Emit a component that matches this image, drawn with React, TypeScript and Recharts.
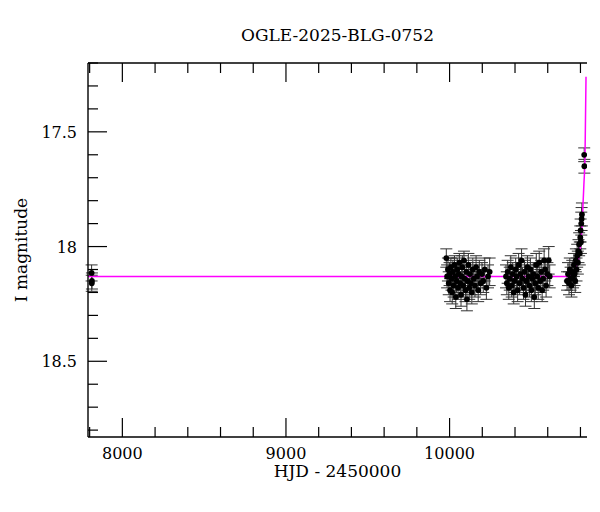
import React from "react";
import { ComposedChart, Scatter, Line, XAxis, YAxis, ErrorBar, Label } from "recharts";

// season data: [HJD-2450000, I mag, error]
const season0: number[][] = [
  [7812, 18.115, 0.035],
  [7814, 18.15, 0.035],
  [7813, 18.16, 0.035],
];
const season1: number[][] = [
  [9980, 18.05, 0.04], [9985, 18.13, 0.05], [9990, 18.1, 0.05], [9995, 18.16, 0.05],
  [10000, 18.12, 0.05], [10003, 18.19, 0.05], [10008, 18.09, 0.04], [10012, 18.14, 0.05],
  [10016, 18.2, 0.05], [10020, 18.11, 0.05], [10025, 18.17, 0.05], [10030, 18.08, 0.04],
  [10034, 18.13, 0.05], [10038, 18.22, 0.05], [10043, 18.15, 0.05], [10047, 18.1, 0.05],
  [10052, 18.18, 0.05], [10056, 18.12, 0.05], [10060, 18.07, 0.04], [10065, 18.16, 0.05],
  [10070, 18.21, 0.05], [10074, 18.13, 0.05], [10078, 18.09, 0.05], [10083, 18.17, 0.05],
  [10088, 18.06, 0.04], [10092, 18.14, 0.05], [10097, 18.19, 0.05], [10102, 18.11, 0.05],
  [10106, 18.23, 0.05], [10110, 18.15, 0.05], [10115, 18.08, 0.05], [10120, 18.18, 0.05],
  [10125, 18.12, 0.05], [10130, 18.16, 0.05], [10136, 18.2, 0.05], [10142, 18.1, 0.05],
  [10148, 18.14, 0.05], [10155, 18.17, 0.05], [10162, 18.09, 0.05], [10168, 18.13, 0.05],
  [10175, 18.19, 0.05], [10182, 18.11, 0.05], [10190, 18.16, 0.05], [10198, 18.12, 0.05],
  [10206, 18.15, 0.05], [10215, 18.1, 0.05], [10225, 18.18, 0.05], [10235, 18.13, 0.05],
  [10245, 18.11, 0.06],
];
const season2: number[][] = [
  [10345, 18.13, 0.05], [10350, 18.16, 0.05], [10355, 18.11, 0.05], [10362, 18.18, 0.05],
  [10368, 18.14, 0.05], [10374, 18.09, 0.05], [10380, 18.17, 0.05], [10386, 18.12, 0.05],
  [10392, 18.2, 0.05], [10398, 18.15, 0.05], [10404, 18.1, 0.05], [10410, 18.13, 0.05],
  [10416, 18.19, 0.05], [10422, 18.08, 0.05], [10428, 18.16, 0.05], [10434, 18.12, 0.05],
  [10440, 18.06, 0.05], [10446, 18.14, 0.05], [10452, 18.18, 0.05], [10458, 18.11, 0.05],
  [10464, 18.21, 0.05], [10470, 18.15, 0.05], [10476, 18.09, 0.05], [10482, 18.13, 0.05],
  [10488, 18.17, 0.05], [10494, 18.1, 0.05], [10500, 18.19, 0.05], [10506, 18.14, 0.05],
  [10512, 18.12, 0.05], [10518, 18.22, 0.05], [10524, 18.16, 0.05], [10530, 18.08, 0.05],
  [10536, 18.13, 0.05], [10542, 18.18, 0.05], [10548, 18.07, 0.05], [10554, 18.15, 0.05],
  [10560, 18.11, 0.05], [10566, 18.19, 0.05], [10572, 18.14, 0.05], [10578, 18.06, 0.05],
  [10584, 18.1, 0.05], [10590, 18.17, 0.05], [10598, 18.12, 0.05], [10606, 18.06, 0.06],
  [10612, 18.13, 0.05],
];
const season3: number[][] = [
  [10718, 18.15, 0.04], [10724, 18.12, 0.05], [10730, 18.16, 0.05], [10735, 18.1, 0.05],
  [10740, 18.14, 0.05], [10745, 18.17, 0.05], [10750, 18.11, 0.05], [10755, 18.13, 0.05],
  [10760, 18.08, 0.05], [10764, 18.12, 0.05], [10768, 18.15, 0.05], [10772, 18.06, 0.05],
  [10776, 18.1, 0.05], [10780, 18.04, 0.05], [10784, 18.07, 0.05], [10788, 18.02, 0.05],
  [10792, 17.99, 0.05], [10796, 18.03, 0.05], [10799, 17.96, 0.05], [10801, 17.93, 0.05],
  [10803, 17.98, 0.05], [10805, 17.9, 0.05], [10807, 17.88, 0.05], [10809, 17.86, 0.05],
  [10823, 17.6, 0.03], [10824, 17.65, 0.03],
];

// model curve
const modelT = [7790, 10600, 10720, 10750, 10766, 10780, 10797, 10811, 10821, 10828, 10834];
const modelMag = [18.131, 18.131, 18.13, 18.125, 18.1, 18.07, 18.02, 17.89, 17.73, 17.6, 17.26];

const xTicks = [7800, 8000, 8200, 8400, 8600, 8800, 9000, 9200, 9400, 9600, 9800, 10000, 10200, 10400, 10600, 10800];
const xMajor = [8000, 9000, 10000];
const yTicks = [17.2, 17.3, 17.4, 17.5, 17.6, 17.7, 17.8, 17.9, 18.0, 18.1, 18.2, 18.3, 18.4, 18.5, 18.6, 18.7, 18.8];
const yMajor = [17.5, 18.0, 18.5];
const yMajorLabels = ["17.5", "18", "18.5"];

const points = [...season0, ...season1, ...season2, ...season3].map((r) => ({ t: r[0], mag: r[1], err: r[2] }));
const model = modelT.map((t, i) => ({ t, mag: modelMag[i] }));

const FONT = "'DejaVu Serif', serif";
const MAJ = 19;
const MIN = 10;

const isMajorX = (v: number) => xMajor.includes(v);
const majorYIdx = (v: number) => yMajor.findIndex((m) => Math.abs(m - v) < 1e-6);

const BottomTick = (p: any) => {
  const v = p.payload.value;
  const maj = isMajorX(v);
  return (
    <g>
      <line x1={p.x} x2={p.x} y1={p.y} y2={p.y - (maj ? MAJ : MIN)} stroke="#000" strokeWidth={1.2} />
      {maj && (
        <text x={p.x} y={p.y + 22} textAnchor="middle" fontFamily={FONT} fontSize={16} fill="#000">
          {v}
        </text>
      )}
    </g>
  );
};
const TopTick = (p: any) => {
  const maj = isMajorX(p.payload.value);
  return <line x1={p.x} x2={p.x} y1={p.y} y2={p.y + (maj ? MAJ : MIN)} stroke="#000" strokeWidth={1.2} />;
};
const LeftTick = (p: any) => {
  const idx = majorYIdx(p.payload.value);
  const maj = idx >= 0;
  return (
    <g>
      <line x1={p.x} x2={p.x + (maj ? MAJ : MIN)} y1={p.y} y2={p.y} stroke="#000" strokeWidth={1.2} />
      {maj && (
        <text x={p.x - 11} y={p.y + 6} textAnchor="end" fontFamily={FONT} fontSize={16} fill="#000">
          {yMajorLabels[idx]}
        </text>
      )}
    </g>
  );
};
const RightTick = (p: any) => {
  const maj = majorYIdx(p.payload.value) >= 0;
  return <line x1={p.x} x2={p.x - (maj ? MAJ : MIN)} y1={p.y} y2={p.y} stroke="#000" strokeWidth={1.2} />;
};

const Dot = (p: any) => <circle cx={p.cx} cy={p.cy} r={2.9} fill="#000" />;

export default function App() {
  const axisLine = { stroke: "#000", strokeWidth: 1.4 };
  return (
    <div style={{ position: "relative", width: 584, height: 496 }}>
      <div
        style={{
          position: "absolute",
          left: 0,
          width: 659,
          top: 17,
          textAlign: "center",
          fontFamily: FONT,
          fontSize: 17,
          lineHeight: "20px",
          color: "#000",
        }}
      >
        OGLE-2025-BLG-0752
      </div>
      <ComposedChart width={584} height={496} margin={{ top: 54, right: 5, left: 0, bottom: 0 }}>
        <XAxis
          xAxisId="b"
          dataKey="t"
          type="number"
          orientation="bottom"
          domain={[7790, 10840]}
          allowDataOverflow
          ticks={xTicks}
          interval={0}
          tickSize={0}
          tickMargin={0}
          tickLine={false}
          axisLine={axisLine}
          tick={BottomTick}
          height={67}
        >
          <Label
            content={(props: any) => {
              const vb = props.viewBox || {};
              return (
                <text x={vb.x + vb.width / 2} y={vb.y + 40} textAnchor="middle" fontFamily={FONT} fontSize={17} fill="#000">
                  HJD - 2450000
                </text>
              );
            }}
          />
        </XAxis>
        <XAxis
          xAxisId="t"
          dataKey="t"
          type="number"
          orientation="top"
          domain={[7790, 10840]}
          allowDataOverflow
          ticks={xTicks}
          interval={0}
          tickSize={0}
          tickMargin={0}
          tickLine={false}
          axisLine={axisLine}
          tick={TopTick}
          height={1}
        />
        <YAxis
          yAxisId="l"
          type="number"
          orientation="left"
          reversed
          domain={[17.2, 18.83]}
          allowDataOverflow
          ticks={yTicks}
          interval={0}
          tickSize={0}
          tickMargin={0}
          tickLine={false}
          axisLine={axisLine}
          tick={LeftTick}
          width={80}
        >
          <Label
            content={(props: any) => {
              const vb = props.viewBox || {};
              const cy = vb.y + vb.height / 2;
              return (
                <text
                  x={19}
                  y={cy}
                  transform={`rotate(-90, 19, ${cy})`}
                  textAnchor="middle"
                  fontFamily={FONT}
                  fontSize={17}
                  fill="#000"
                >
                  I magnitude
                </text>
              );
            }}
          />
        </YAxis>
        <YAxis
          yAxisId="r"
          type="number"
          orientation="right"
          reversed
          domain={[17.2, 18.83]}
          allowDataOverflow
          ticks={yTicks}
          interval={0}
          tickSize={0}
          tickMargin={0}
          tickLine={false}
          axisLine={axisLine}
          tick={RightTick}
          width={0}
        />
        <Scatter
          xAxisId="b"
          yAxisId="l"
          data={points}
          dataKey="mag"
          shape={Dot}
          isAnimationActive={false}
        >
          <ErrorBar dataKey="err" direction="y" width={6} stroke="#333" strokeWidth={1} isAnimationActive={false} />
        </Scatter>
        <Line
          xAxisId="t"
          yAxisId="r"
          data={model}
          dataKey="mag"
          stroke="none"
          strokeWidth={0}
          dot={false}
          activeDot={false}
          isAnimationActive={false}
        />
        <Line
          xAxisId="b"
          yAxisId="l"
          data={model}
          dataKey="mag"
          type="monotoneX"
          stroke="#ff00ff"
          strokeWidth={1.5}
          dot={false}
          activeDot={false}
          isAnimationActive={false}
        />
      </ComposedChart>
    </div>
  );
}
